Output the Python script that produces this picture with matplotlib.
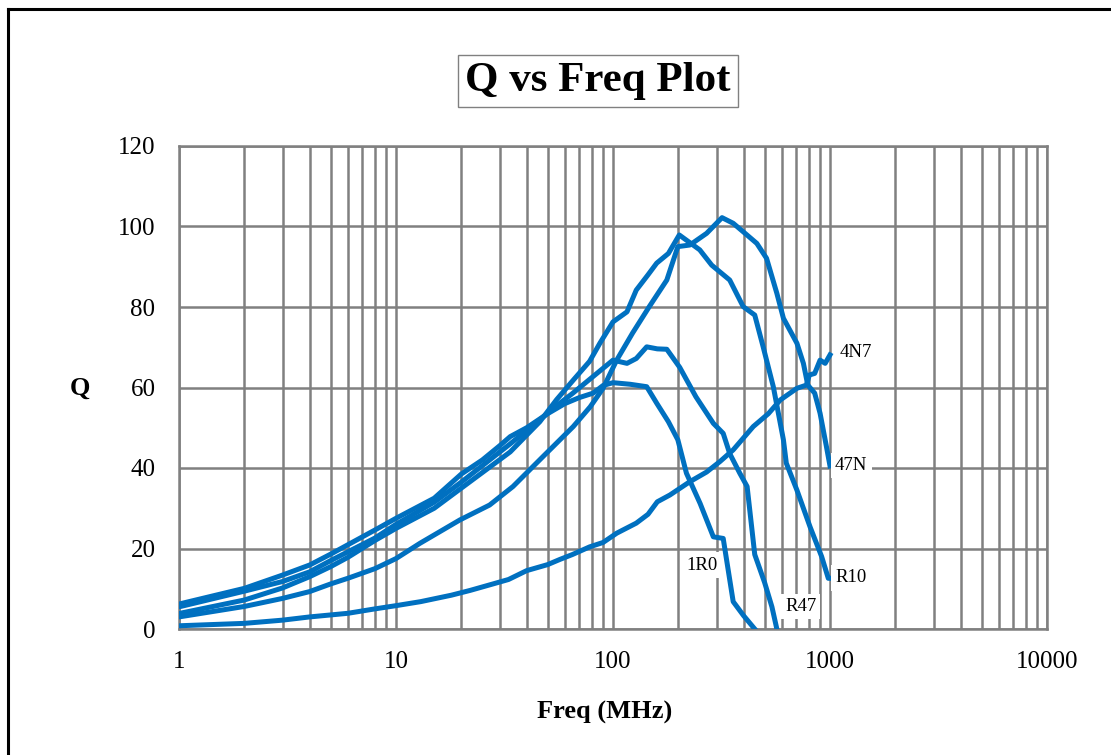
import matplotlib
matplotlib.use('Agg')
import matplotlib.pyplot as plt
from matplotlib.lines import Line2D

plt.rcParams['font.family'] = ['Liberation Serif', 'DejaVu Serif']

# Q vs frequency (MHz)
f_1r0 = [1, 2, 3, 4, 5, 8, 10, 15, 20, 25, 30, 33.6, 40, 50, 60, 70, 81, 90, 100, 120, 143,
         159, 180, 199, 218, 252, 290, 322, 358, 400, 450]
q_1r0 = [6.2, 10.1, 13.4, 15.9, 18.6, 24.6, 27.5, 32.5, 38.5, 42, 45.5, 47.8, 50, 53.5, 56, 57.5, 58.6,
         60.5, 61.2, 60.8, 60.2, 56.1, 51.5, 47, 38.7, 31.2, 22.9, 22.5, 6.8, 3.3, 0]

f_r47 = [1, 2, 3, 4, 5, 8, 10, 15, 20, 33.6, 46, 55, 65, 80, 100, 116, 128, 143, 160, 177,
         203, 241, 290, 322, 345, 384, 415, 430, 450, 500, 540, 569]
q_r47 = [5.5, 9.4, 11.8, 14.2, 17.0, 22.6, 26, 31.5, 36.5, 46, 52, 55.5, 58.5, 62.5, 66.8, 66.0,
         67.2, 70.1, 69.6, 69.5, 65.0, 57.7, 51.1, 48.6, 43.6, 38.7, 35.4, 28, 18.5, 11.5, 5.5, 0]

f_r10 = [1, 2, 3, 4, 5, 6, 8, 10, 15, 20, 33.6, 46, 55, 66, 78, 87, 100, 116, 128, 145, 159, 180,
         202, 251, 285, 345, 398, 450, 492, 548, 610, 629, 704, 809, 915, 982, 1000]
q_r10 = [3.85, 7.2, 10.2, 13.0, 15.5, 17.8, 22, 25, 30, 35, 44, 51.5, 57, 62, 66.5, 71, 76.3, 78.8,
         84.2, 88, 90.9, 93.3, 97.9, 94.2, 90.4, 86.7, 80.1, 78, 70.1, 60.2, 47, 41.2, 34.5, 25.4,
         18, 12.6, 12.6]

f_47n = [1, 2, 3, 4, 5, 6, 8, 10, 12.9, 19.7, 27, 34.6, 47.5, 52, 65.6, 78.5, 90, 104, 123, 147,
         177, 199, 226, 270, 318, 358, 398, 460, 510, 569, 610, 704, 754, 790, 850, 900, 963, 1000]
q_47n = [3.0, 5.6, 7.6, 9.3, 11.2, 12.6, 15.0, 17.5, 21.3, 27.1, 30.8, 35.4, 42.8, 44.9, 50.3, 55.2,
         59.8, 66.8, 73.5, 80.1, 86.7, 95, 95.4, 98.3, 102.2, 100.8, 98.7, 95.8, 92.1, 83.4, 77.2,
         71, 66, 60.6, 58.6, 53.6, 45.3, 40.5]

f_4n7 = [1, 2, 3, 4, 6, 8, 10, 13, 18, 22, 28, 33, 40, 50, 57, 65, 78, 90, 104, 128, 145, 160,
         183, 226, 270, 311, 358, 443, 520, 590, 704, 779, 803, 850, 900, 950, 1000]
q_4n7 = [0.8, 1.4, 2.2, 3.0, 3.9, 5.0, 5.8, 6.8, 8.4, 9.6, 11.2, 12.3, 14.5, 16.0, 17.3, 18.5,
         20.4, 21.5, 23.8, 26.3, 28.5, 31.6, 33.3, 36.6, 39, 41.6, 44.5, 50.3, 53.5, 56.9, 59.8,
         60.6, 63.1, 63.5, 66.8, 66.0, 68.1]

# label positions (freq, Q)
labels = ['4N7', '47N', 'R10', 'R47', '1R0']
label_f = [1112, 1055, 1055, 621, 219]
label_q = [68.6, 40.7, 12.7, 5.5, 15.9]

blue = '#0070C0'
grey = '#808080'

fig = plt.figure(figsize=(11.11, 7.55), dpi=100)
ax = fig.add_axes([179 / 1111, 1 - 629 / 755, (1047 - 179) / 1111, (629 - 146) / 755])

for fx, qy in [(f_1r0, q_1r0), (f_r47, q_r47), (f_r10, q_r10), (f_47n, q_47n), (f_4n7, q_4n7)]:
    ax.plot(fx, qy, color=blue, linewidth=3.6, solid_joinstyle='round', zorder=3)

ax.set_xscale('log')
ax.set_xlim(1, 10000)
ax.set_ylim(0, 120)
ax.set_yticks(range(0, 121, 20))
ax.set_xticks([1, 10, 100, 1000, 10000])
ax.set_xticklabels(['1', '10', '100', '1000', '10000'])
ax.grid(True, which='both', axis='x', color=grey, linewidth=1.8)
ax.grid(True, which='major', axis='y', color=grey, linewidth=1.8)
ax.tick_params(which='both', length=0, labelsize=18)
ax.tick_params(axis='y', pad=17)
ax.tick_params(axis='x', pad=16)
for sp in ax.spines.values():
    sp.set_color(grey)
    sp.set_linewidth(1.8)

for t, fx, qy in zip(labels, label_f, label_q):
    ax.text(fx, qy, t, fontsize=13.5, ha='left', va='center', zorder=4,
            bbox=dict(facecolor='white', edgecolor='none', pad=3))

fig.text(598 / 1111, 1 - 81 / 755, 'Q vs Freq Plot', fontsize=31, fontweight='bold',
         ha='center', va='center',
         bbox=dict(boxstyle='square,pad=0.17', facecolor='white', edgecolor=grey, linewidth=1))
fig.text(80 / 1111, 1 - 388 / 755, 'Q', fontsize=19, fontweight='bold', ha='center', va='center')
fig.text(605 / 1111, 1 - 712 / 755, 'Freq (MHz)', fontsize=19, fontweight='bold',
         ha='center', va='center')

# outer frame (top and left edges only)
fig.add_artist(Line2D([7.5 / 1111, 7.5 / 1111], [0, 1 - 8.5 / 755], color='black', linewidth=2.2))
fig.add_artist(Line2D([7.5 / 1111, 1], [1 - 8.5 / 755, 1 - 8.5 / 755], color='black', linewidth=2.2))

fig.savefig('out.png', dpi=100)
